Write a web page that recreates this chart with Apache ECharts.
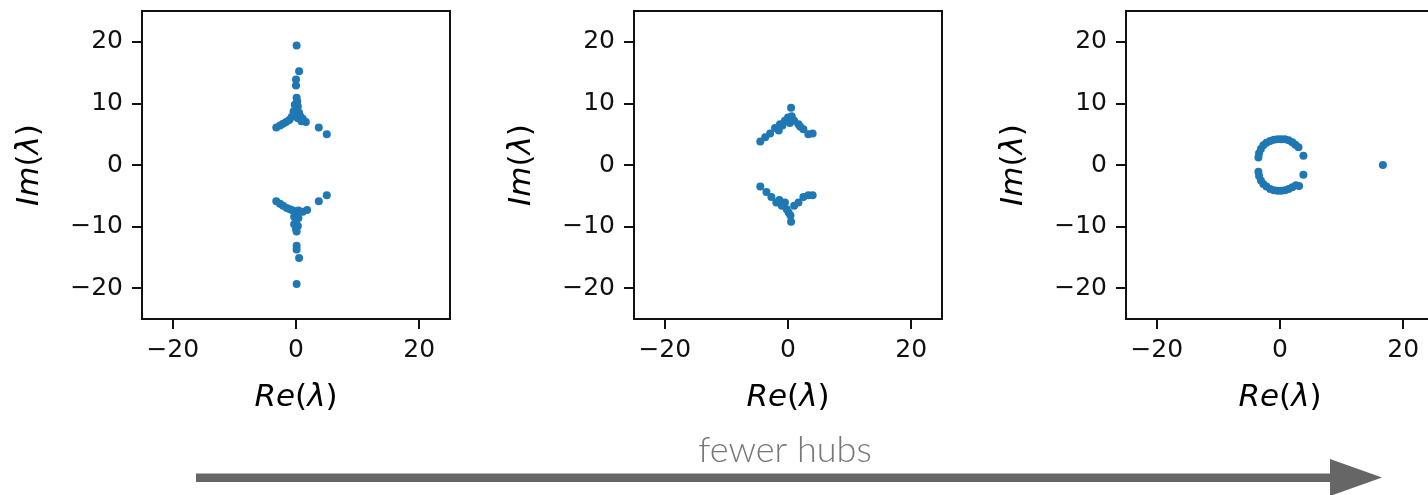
<!DOCTYPE html>
<html>
<head>
<meta charset="utf-8">
<script src="https://cdn.jsdelivr.net/npm/echarts@6/dist/echarts.min.js"></script>
<style>
  html, body { margin: 0; padding: 0; background: #ffffff; overflow: hidden; }
  #chart { width: 1428px; height: 495px; }
</style>
</head>
<body>
<div id="chart"></div>
<script>
// Eigenvalue spectra (Re, Im) of three networks, from many hubs to few hubs.
const axisRange = [-25, 25];
const xTickValues = [-20, 0, 20];
const yTickValues = [-20, -10, 0, 10, 20];

const spectrumManyHubs = [
  [0.1, 19.4], [0.5, 15.2], [0.0, 13.9], [0.0, 12.9], [0.1, 10.9], [0.2, 10.3],
  [-0.2, 9.8], [0.3, 9.5], [0.0, 9.0], [-0.4, 8.7], [0.5, 8.5], [-0.1, 8.2],
  [0.7, 7.9], [-0.7, 7.8], [0.3, 7.6], [1.1, 7.5], [-1.1, 7.3], [1.6, 7.0],
  [0.9, 7.1], [-1.6, 7.0], [-2.1, 6.7], [-2.6, 6.4], [-3.2, 6.1], [3.7, 6.1],
  [5.0, 5.0],
  [-3.2, -5.9], [-2.6, -6.3], [-2.1, -6.6], [-1.5, -7.0], [-1.0, -7.2],
  [-0.5, -7.4], [0.4, -7.4], [1.1, -7.6], [1.8, -7.3], [0.0, -7.9],
  [-0.3, -8.4], [0.4, -8.6], [0.0, -9.1], [-0.3, -9.6], [0.3, -9.9],
  [0.0, -10.4], [0.1, -10.8], [0.1, -13.1], [0.1, -13.7], [0.5, -15.1],
  [0.1, -19.3], [3.7, -5.9], [5.0, -4.9]
];

const spectrumMidHubs = [
  [-4.5, 3.8], [-3.7, 4.5], [-2.9, 5.1], [-2.1, 6.0], [-1.5, 5.6], [-1.3, 6.6],
  [-0.5, 7.2], [0.0, 7.7], [0.3, 6.8], [0.5, 9.3], [1.0, 7.2], [1.7, 6.6],
  [2.5, 5.8], [3.3, 5.0], [4.0, 5.1], [-0.9, 6.4], [0.6, 7.9], [2.0, 6.2],
  [-4.5, -3.5], [-3.5, -4.4], [-2.7, -5.2], [-1.9, -6.1], [-1.0, -6.6],
  [-0.5, -6.1], [-0.2, -7.2], [0.1, -7.7], [0.5, -9.2], [1.0, -6.6],
  [1.7, -6.1], [2.5, -5.2], [3.3, -4.9], [4.0, -4.9], [0.4, -8.2], [-1.4, -5.7]
];

const spectrumFewHubs = [
  [-3.5, 1.2], [-3.4, 1.9], [-3.1, 2.6], [-2.7, 3.2], [-2.2, 3.6], [-1.6, 3.9],
  [-1.0, 4.1], [-0.4, 4.2], [0.2, 4.2], [0.8, 4.2], [1.4, 4.0], [2.0, 3.7],
  [2.5, 3.3], [3.0, 2.9], [3.8, 1.5],
  [-3.5, -1.1], [-3.4, -1.8], [-3.1, -2.5], [-2.7, -3.1], [-2.2, -3.5],
  [-1.6, -3.9], [-1.0, -4.1], [-0.4, -4.2], [0.2, -4.2], [0.8, -4.1],
  [1.4, -3.9], [2.0, -3.6], [2.6, -3.3], [3.1, -3.4], [3.8, -1.6],
  [16.7, 0.0]
];

const spectra = [spectrumManyHubs, spectrumMidHubs, spectrumFewHubs];
const panelLefts = [142, 634, 1126];
const panelTop = 11;
const panelSize = 308;

const tickFont = 'DejaVu Sans';
const minusSign = v => (v < 0 ? '\u2212' + Math.abs(v) : String(v));

function axisName(main) {
  return '{i|' + main + '}{n|(}{i|\u03bb}{n|)}';
}
const nameRich = {
  i: { fontFamily: tickFont, fontStyle: 'italic', fontSize: 31, color: '#000' },
  n: { fontFamily: tickFont, fontSize: 31, color: '#000' }
};

const grids = [], xAxes = [], yAxes = [], series = [];
spectra.forEach((pts, k) => {
  grids.push({
    left: panelLefts[k], top: panelTop, width: panelSize, height: panelSize,
    outerBoundsMode: 'none', containLabel: false,
    show: true, borderColor: '#111', borderWidth: 2, backgroundColor: '#fff'
  });
  xAxes.push({
    gridIndex: k, type: 'value', min: axisRange[0], max: axisRange[1],
    splitLine: { show: false },
    axisLine: { show: false, onZero: false },
    axisTick: { show: true, inside: false, length: 10, customValues: xTickValues,
                lineStyle: { color: '#111', width: 2 } },
    axisLabel: { customValues: xTickValues, margin: 19, formatter: minusSign,
                 fontFamily: tickFont, fontSize: 25, color: '#111' },
    name: axisName('Re'), nameLocation: 'middle', nameGap: 63,
    nameTextStyle: { rich: nameRich }
  });
  yAxes.push({
    gridIndex: k, type: 'value', min: axisRange[0], max: axisRange[1],
    splitLine: { show: false },
    axisLine: { show: false, onZero: false },
    axisTick: { show: true, inside: false, length: 10, customValues: yTickValues,
                lineStyle: { color: '#111', width: 2 } },
    axisLabel: { customValues: yTickValues, margin: 19, formatter: minusSign,
                 fontFamily: tickFont, fontSize: 25, color: '#111' },
    name: axisName('Im'), nameLocation: 'middle', nameGap: 97, nameRotate: 90,
    nameTextStyle: { rich: nameRich }
  });
  series.push({
    type: 'scatter', xAxisIndex: k, yAxisIndex: k, data: pts,
    symbol: 'circle', symbolSize: 8,
    itemStyle: { color: '#1f77b4', opacity: 1 },
    silent: true, animation: false
  });
});

const chart = echarts.init(document.getElementById('chart'), null, { renderer: 'canvas' });
chart.setOption({
  backgroundColor: '#ffffff',
  animation: false,
  grid: grids,
  xAxis: xAxes,
  yAxis: yAxes,
  series: series,
  graphic: [
    {
      type: 'text', z: 10, x: 785, y: 450,
      style: { text: 'fewer hubs', fontFamily: 'Lato', fontWeight: 300,
               fontSize: 36, fill: '#777777', align: 'center', verticalAlign: 'middle' }
    },
    {
      type: 'rect', z: 10,
      shape: { x: 196, y: 473.5, width: 1136, height: 8.5 },
      style: { fill: '#666666' }
    },
    {
      type: 'polygon', z: 10,
      shape: { points: [[1330, 459], [1382, 477.5], [1330, 496]] },
      style: { fill: '#666666' }
    }
  ]
});
</script>
</body>
</html>
